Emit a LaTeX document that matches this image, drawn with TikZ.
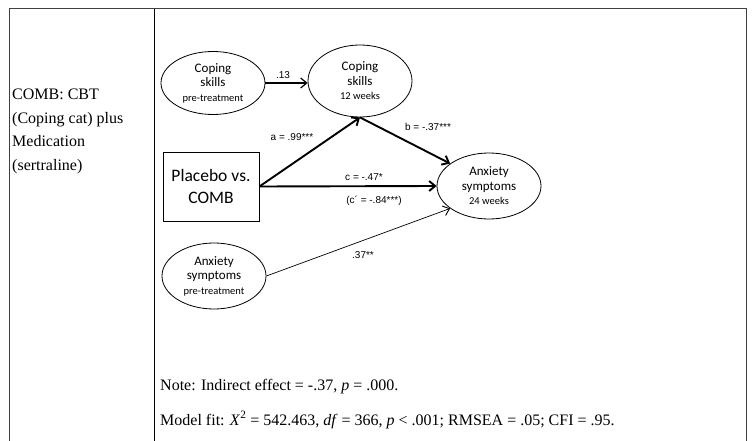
\documentclass[tikz,border=0pt]{standalone}
\usepackage{fontspec}
\setmainfont{Liberation Serif}
\newfontfamily\calib{Carlito}
\newfontfamily\arialf{Liberation Sans}
\usetikzlibrary{shapes.geometric,arrows.meta}

\tikzset{
  rule/.style={line width=1pt, draw=black!75},
  latent/.style={ellipse, draw, line width=0.8pt, inner sep=0pt, align=center,
                 font=\calib\fontsize{13}{14.5}\selectfont},
  obsbox/.style={rectangle, draw, line width=0.8pt, inner sep=0pt, align=center,
                 font=\calib\fontsize{17.5}{22}\selectfont},
  coef/.style={font=\arialf\fontsize{10}{12}\selectfont, inner sep=1pt},
  celltext/.style={anchor=base west, inner sep=0pt, font=\fontsize{16}{19}\selectfont},
  boldpath/.style={line width=1.9pt, -{Straight Barb[length=6pt,width=10pt,line width=1.9pt]}},
  midpath/.style={line width=1.2pt, -{Straight Barb[length=6pt,width=10pt,line width=1.2pt]}},
  thinpath/.style={line width=0.7pt, -{Straight Barb[length=6pt,width=10pt,line width=0.9pt]}}
}
\newcommand{\smallline}[1]{{\fontsize{10.5}{12}\selectfont #1}}

\begin{document}
\begin{tikzpicture}[x=1pt, y=-1pt]
  \useasboundingbox (0,0) rectangle (756,441);
  \fill[white] (0,0) rectangle (756,441);

  % table rules
  \draw[rule] (9,9) -- (747,9);
  \draw[rule] (9,9) -- (9,441);
  \draw[line width=0.9pt] (154,9) -- (154,441);
  \draw[rule] (746,9) -- (746,441);

  % left cell
  \node[celltext] (l1) at (12,100) {COMB: CBT};
  \node[celltext] (l2) at (12,123.5) {(Coping cat) plus};
  \node[celltext] (l3) at (12,147) {Medication};
  \node[celltext] (l4) at (12,170.5) {(sertraline)};

  % path model
  \node[latent, minimum width=104pt, minimum height=63pt] (cpre) at (213,83)
    {Coping\\skills\\\smallline{pre-treatment}};
  \node[latent, minimum width=104pt, minimum height=72pt] (c12) at (360,81)
    {Coping\\skills\\\smallline{12 weeks}};
  \node[obsbox, minimum width=96pt, minimum height=69pt] (grp) at (211,186.5)
    {Placebo vs.\\COMB};
  \node[latent, minimum width=104pt, minimum height=66pt] (anx24) at (489,186)
    {Anxiety\\symptoms\\\smallline{24 weeks}};
  \node[latent, minimum width=104pt, minimum height=66pt] (anxpre) at (214,276)
    {Anxiety\\symptoms\\\smallline{pre-treatment}};

  \draw[midpath] (cpre.east) -- (c12.west |- cpre.east);
  \draw[boldpath] (grp.east) -- (c12.south);
  \draw[boldpath] (c12.south) -- (anx24.150);
  \draw[boldpath] (grp.east) -- (anx24.west);
  \draw[thinpath] (anxpre.east) -- (anx24.210);

  \node[coef] (k13) at (283,75) {.13};
  \node[coef] (ka) at (292,137) {a = .99***};
  \node[coef] (kb) at (428,127) {b = -.37***};
  \node[coef] (kc) at (364,177) {c = -.47*};
  \node[coef] (kcp) at (374,201) {(c\textasciiacute{} = -.84***)};
  \node[coef] (k37) at (363,255) {.37**};

  % notes
  \node[celltext] (n1) at (160,390) {Note: Indirect effect = -.37, \textit{p} = .000.};
  \node[celltext] (n2) at (160,425) {Model fit: \textit{X}\textsuperscript{2} = 542.463, \textit{df} = 366, \textit{p} {\textless} .001; RMSEA = .05; CFI = .95.};
\end{tikzpicture}
\end{document}
